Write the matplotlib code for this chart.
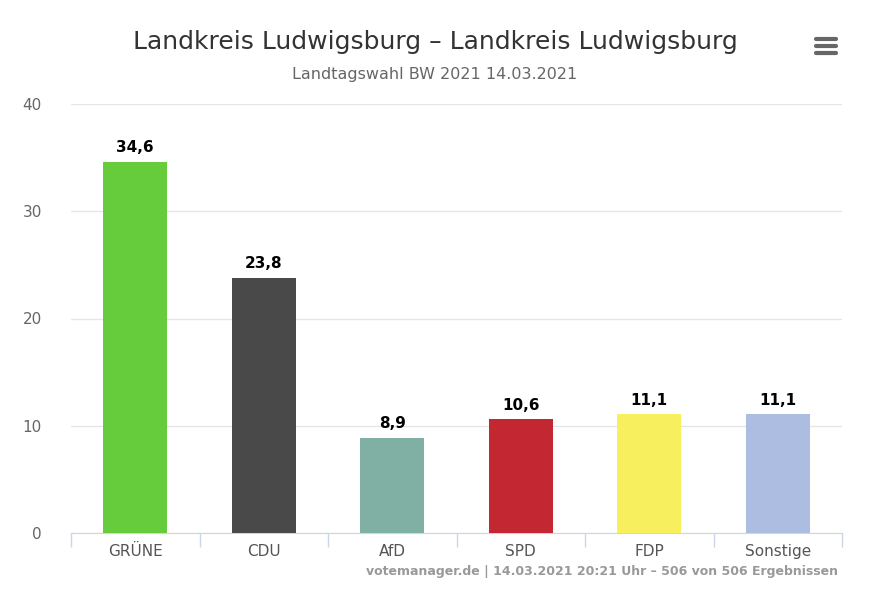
import matplotlib.pyplot as plt
from matplotlib.lines import Line2D

# Data
parties = ['GRÜNE', 'CDU', 'AfD', 'SPD', 'FDP', 'Sonstige']
shares = [34.6, 23.8, 8.9, 10.6, 11.1, 11.1]
colors = ['#66cc3c', '#494949', '#7fb0a3', '#c32732', '#f8ef5e', '#adbde1']
yticks = [0, 10, 20, 30, 40]

fig = plt.figure(figsize=(8.74, 5.95), dpi=100)
ax = fig.add_axes([71 / 874, 62 / 595, 771 / 874, 429 / 595])

x = range(len(parties))
ax.bar(x, shares, width=0.5, color=colors, zorder=3)

for i, v in enumerate(shares):
    ax.text(i, v + 0.6, f'{v:.1f}'.replace('.', ','), ha='center', va='bottom',
            fontsize=11, fontweight='bold', color='black')

ax.set_xlim(-0.5, len(parties) - 0.5)
ax.set_ylim(0, 40)
ax.set_yticks(yticks)
ax.set_yticklabels([str(t) for t in yticks])
ax.grid(axis='y', color='#e6e6e6', linewidth=1, zorder=0)
ax.tick_params(axis='y', length=0, labelsize=11, labelcolor='#666666', pad=21)

ax.set_xticks(list(x))
ax.set_xticklabels(parties)
ax.set_xticks([i - 0.5 for i in range(len(parties) + 1)], minor=True)
ax.tick_params(axis='x', which='major', length=0, labelsize=11, labelcolor='#555555', pad=8)
ax.tick_params(axis='x', which='minor', length=10, color='#ccd6eb', width=1)

for s in ['top', 'right', 'left']:
    ax.spines[s].set_visible(False)
ax.spines['bottom'].set_color('#ccd6eb')

fig.text(435 / 874, 1 - 42 / 595, 'Landkreis Ludwigsburg – Landkreis Ludwigsburg',
         ha='center', va='center', fontsize=18, color='#333333')
fig.text(435 / 874, 1 - 75 / 595, 'Landtagswahl BW 2021 14.03.2021',
         ha='center', va='center', fontsize=11.5, color='#666666')
fig.text(838 / 874, 1 - 571 / 595, 'votemanager.de | 14.03.2021 20:21 Uhr – 506 von 506 Ergebnissen',
         ha='right', va='center', fontsize=9, color='#999999', fontweight='bold')

# menu icon
for yy in [39, 46, 53]:
    fig.add_artist(Line2D([816 / 874, 836 / 874], [1 - yy / 595, 1 - yy / 595],
                          color='#666666', linewidth=3, solid_capstyle='round'))

fig.savefig('out.png', dpi=100)
